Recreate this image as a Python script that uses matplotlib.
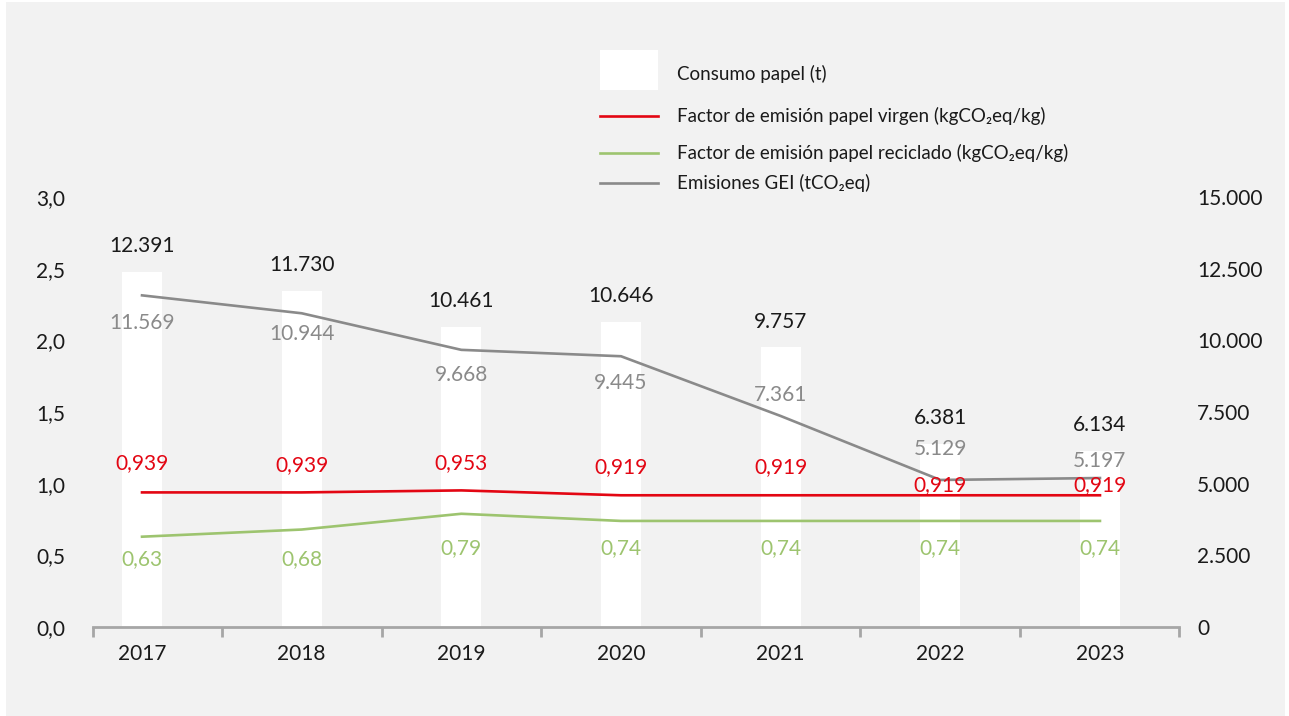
import matplotlib
matplotlib.use('Agg')
import matplotlib.pyplot as plt
from matplotlib.patches import Rectangle
from matplotlib.lines import Line2D
import numpy as np

plt.rcParams['font.family'] = ['Lato', 'DejaVu Sans']

# Datos
years = ['2017', '2018', '2019', '2020', '2021', '2022', '2023']
consumo_papel = [12391, 11730, 10461, 10646, 9757, 6381, 6134]
fe_virgen = [0.939, 0.939, 0.953, 0.919, 0.919, 0.919, 0.919]
fe_reciclado = [0.63, 0.68, 0.79, 0.74, 0.74, 0.74, 0.74]
emisiones_gei = [11569, 10944, 9668, 9445, 7361, 5129, 5197]

# Colores
C_RED = '#e30613'
C_GREEN = '#9dc46f'
C_GRAY = '#8a8a8a'
C_TEXT = '#1a1a1a'
C_BG = '#f2f2f2'

# desplazamiento de etiquetas (puntos)
off_gei = [-20, -15, -18, -19, 15, 22, 12]
off_virgen = [21, 20, 20, 20, 20, 7.5, 7.5]
off_recic = [-16, -21, -24.5, -19.5, -19.5, -19.5, -19.5]


def fmt_miles(v):
    return f"{v:,}".replace(',', '.')


def fmt_dec(v, n):
    return f"{v:.{n}f}".replace('.', ',')


fig = plt.figure(figsize=(12.89, 7.16), dpi=100, facecolor='white')
fig.patches.append(Rectangle((6 / 1289, 0), 1279 / 1289, 714 / 716,
                             transform=fig.transFigure, facecolor=C_BG,
                             edgecolor='none', zorder=-10))

ax = fig.add_axes([93 / 1289, 1 - 627 / 716, (1179 - 93) / 1289, (627 - 197) / 716])
ax2 = ax.twinx()
ax.set_zorder(ax2.get_zorder() + 1)
for a in (ax, ax2):
    a.patch.set_visible(False)
    for s in a.spines.values():
        s.set_visible(False)

x = np.arange(len(years))

# Barras (eje derecho)
ax2.bar(x, consumo_papel, width=0.25, color='white', zorder=1)
ax2.set_ylim(0, 15000)
ax2.set_yticks(np.arange(0, 15001, 2500))
ax2.set_yticklabels([fmt_miles(int(v)) for v in np.arange(0, 15001, 2500)])
ax2.tick_params(axis='y', length=0, pad=13, labelsize=15, labelcolor=C_TEXT)
for xi, v in zip(x, consumo_papel):
    ax2.annotate(fmt_miles(v), (xi, v), xytext=(0, 18.5), textcoords='offset points',
                 ha='center', va='center', fontsize=15, color=C_TEXT)

# Lineas
ax.plot(x, fe_virgen, color=C_RED, lw=1.9, zorder=3)
ax.plot(x, fe_reciclado, color=C_GREEN, lw=1.9, zorder=3)
ax.set_ylim(0, 3.0)
ax.set_xlim(-0.307, 6.495)
ax.set_yticks(np.arange(0, 3.01, 0.5))
ax.set_yticklabels([fmt_dec(v, 1) for v in np.arange(0, 3.01, 0.5)])
ax.tick_params(axis='y', length=0, pad=20, labelsize=15, labelcolor=C_TEXT)

# emisiones en el eje derecho pero dibujada encima
gei_disp = ax2.transData.transform(np.column_stack([x, emisiones_gei]))
gei_ax = ax.transData.inverted().transform(gei_disp)
ax.plot(gei_ax[:, 0], gei_ax[:, 1], color=C_GRAY, lw=1.9, zorder=3)

for xi, v, o in zip(x, emisiones_gei, off_gei):
    ax2.annotate(fmt_miles(v), (xi, v), xytext=(0, o), textcoords='offset points',
                 ha='center', va='center', fontsize=15, color=C_GRAY, zorder=4)
for xi, v, o in zip(x, fe_virgen, off_virgen):
    ax.annotate(fmt_dec(v, 3), (xi, v), xytext=(0, o), textcoords='offset points',
                ha='center', va='center', fontsize=15, color=C_RED, zorder=4)
for xi, v, o in zip(x, fe_reciclado, off_recic):
    ax.annotate(fmt_dec(v, 2), (xi, v), xytext=(0, o), textcoords='offset points',
                ha='center', va='center', fontsize=15, color=C_GREEN, zorder=4)

# Eje X
ax.spines['bottom'].set_visible(True)
ax.spines['bottom'].set_color('#a6a6a6')
ax.spines['bottom'].set_linewidth(2)
ax.set_xticks(x)
ax.set_xticklabels(years)
ax.tick_params(axis='x', which='major', length=0, pad=12, labelsize=15, labelcolor=C_TEXT)
ax.set_xticks(np.concatenate([[-0.307], x[:-1] + 0.5, [6.495]]), minor=True)
ax.tick_params(axis='x', which='minor', length=7, width=2, color='#a6a6a6', direction='out')

# Leyenda manual
W, H = 1289, 716
fig.patches.append(Rectangle((600 / W, 1 - 90 / H), 58 / W, 40 / H, transform=fig.transFigure,
                             facecolor='white', edgecolor='none', zorder=2))
leg_items = [
    (C_RED, 116, 'Factor de emisión papel virgen (kgCO₂eq/kg)'),
    (C_GREEN, 153, 'Factor de emisión papel reciclado (kgCO₂eq/kg)'),
    (C_GRAY, 183, 'Emisiones GEI (tCO₂eq)'),
]
fig.text(677 / W, 1 - 74 / H, 'Consumo papel (t)', fontsize=13.5, color=C_TEXT, va='center')
for col, yy, lab in leg_items:
    fig.add_artist(Line2D([600 / W, 658 / W], [1 - yy / H, 1 - yy / H], color=col, lw=1.9,
                          transform=fig.transFigure))
    fig.text(677 / W, 1 - yy / H, lab, fontsize=13.5, color=C_TEXT, va='center')

fig.savefig('out.png', dpi=100, facecolor=fig.get_facecolor())
